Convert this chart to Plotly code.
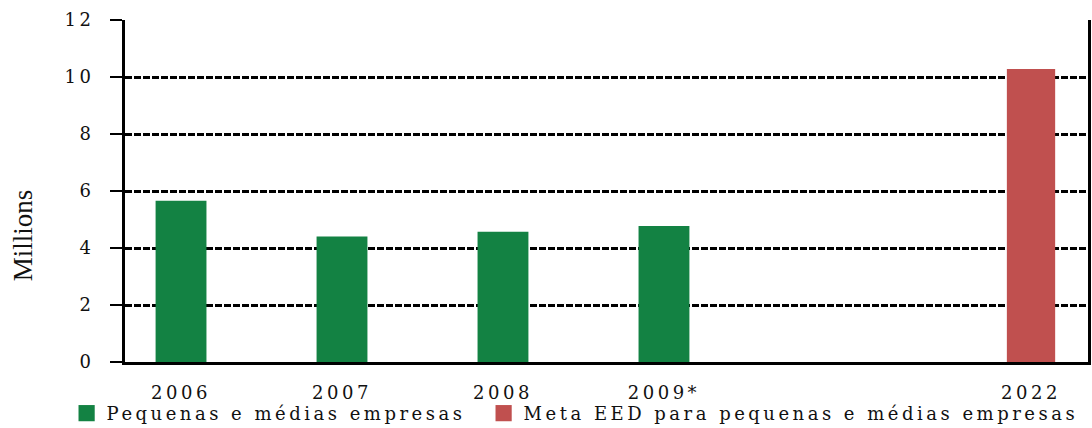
import plotly.graph_objects as go

# Number of small and medium-sized enterprises (millions)
years_actual = ["2006", "2007", "2008", "2009*"]
values_actual = [5.66, 4.40, 4.57, 4.77]
years_target = ["2022"]
values_target = [10.28]

series_actual = "Pequenas e médias empresas"
series_target = "Meta EED para pequenas e médias empresas"
y_ticks = [0, 2, 4, 6, 8, 10, 12]

# Horizontal slot for each year on the axis (2022 sits after a gap)
slot_actual = [0, 1, 2, 3]
slot_target = [5.28]

GREEN = "#138243"
RED = "#C0504F"
TXT = dict(family="DejaVu Serif", size=18, color="#111111")

fig = go.Figure()
fig.add_trace(go.Bar(x=slot_actual, y=values_actual, name=series_actual,
                     marker=dict(color=GREEN, line=dict(width=0)), width=0.316))
fig.add_trace(go.Bar(x=slot_target, y=values_target, name=series_target,
                     marker=dict(color=RED, line=dict(width=0)), width=0.30))

fig.update_layout(
    width=1092, height=428,
    margin=dict(l=125, r=4, t=20, b=66, autoexpand=False),
    paper_bgcolor="white", plot_bgcolor="white",
    barmode="overlay",
    font=TXT,
    showlegend=True,
    legend=dict(orientation="h", x=0.061, xref="container", xanchor="left",
                y=0.034, yref="container", yanchor="middle",
                font=TXT, entrywidth=372, entrywidthmode="pixels",
                itemsizing="constant", bgcolor="rgba(0,0,0,0)"),
    xaxis=dict(range=[-0.348, 5.634], tickmode="array",
               tickvals=slot_actual + slot_target, ticktext=years_actual + years_target,
               showgrid=False, zeroline=False, showline=True, linecolor="black",
               linewidth=3, ticks="", ticklabelstandoff=12, tickfont=TXT),
    yaxis=dict(range=[0, 12], tickmode="array", tickvals=y_ticks,
               showgrid=True, gridcolor="black", gridwidth=2.5, griddash="7px,2px",
               zeroline=False, showline=True, mirror=True, linecolor="black",
               linewidth=3, ticks="outside", ticklen=12, tickwidth=2,
               tickcolor="black", ticklabelstandoff=12, tickfont=TXT),
    annotations=[dict(text="Millions", xref="paper", yref="paper",
                      x=-0.105, y=0.37, xanchor="center", yanchor="middle",
                      textangle=-90, showarrow=False,
                      font=dict(family="Liberation Serif", size=27, color="#111111"))],
)

# Wide letter spacing for axis and legend labels, larger legend swatches
# (scaled after their own translate), and let legend text run past its box
spacing_js = """
var gd = document.getElementById('{plot_id}');
gd.querySelectorAll('.xtick text, .ytick text, .legendtext').forEach(function(t){
  t.style.letterSpacing = '3.5px';
});
gd.querySelectorAll('.legend .legendpoints path').forEach(function(p){
  var tr = p.getAttribute('transform') || '';
  p.setAttribute('transform', tr + ' scale(1.35)');
});
gd.querySelectorAll('.legend [clip-path]').forEach(function(e){
  e.removeAttribute('clip-path');
});
"""

fig.write_html("out.html", post_script=spacing_js)
